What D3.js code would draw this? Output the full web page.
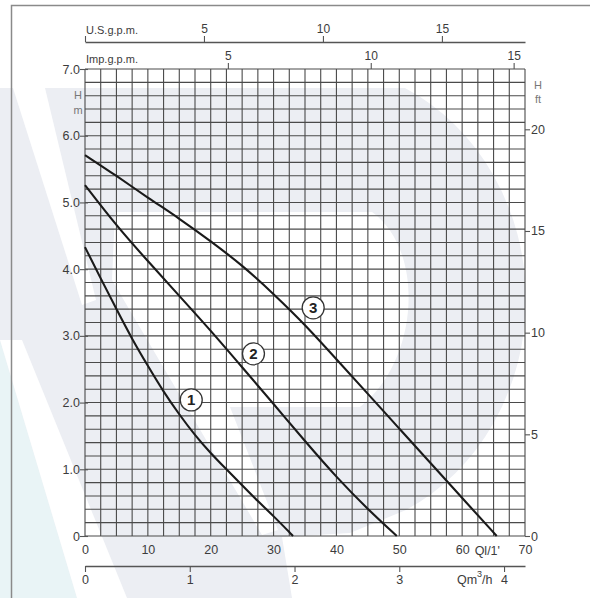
<!DOCTYPE html>
<html>
<head>
<meta charset="utf-8">
<script src="https://cdn.jsdelivr.net/npm/d3@7"></script>
<style>
  body { margin: 0; background: #fff; }
  svg { display: block; }
  text { font-family: "Liberation Sans Narrow", "Liberation Sans", Arial, sans-serif; fill: #3c3c3c; }
</style>
</head>
<body>
<div id="chart"></div>
<script>
// pump curves, flow in l/min, head in m
const flowPump1 = [0, 2.5, 5, 7.5, 10, 12.5, 15, 17.5, 20, 22.5, 25, 27.5, 30, 33.1];
const headPump1 = [4.33, 3.86, 3.4, 2.95, 2.55, 2.16, 1.82, 1.51, 1.24, 1.0, 0.76, 0.52, 0.3, 0];
const flowPump2 = [0, 5, 10, 15, 20, 25, 30, 35, 40, 45, 49.6];
const headPump2 = [5.26, 4.65, 4.12, 3.6, 3.08, 2.53, 1.98, 1.42, 0.88, 0.4, 0];
const flowPump3 = [0, 5, 10, 15, 20, 25, 30, 35, 40, 45, 50, 55, 60, 65.5];
const headPump3 = [5.71, 5.4, 5.07, 4.76, 4.42, 4.06, 3.63, 3.17, 2.65, 2.13, 1.61, 1.09, 0.57, 0];

// circled curve numbers
const curveNames = ["1", "2", "3"];
const nameFlow = [16.9, 26.8, 36.3];
const nameHead = [2.04, 2.73, 3.42];

// axes
const headTicks = [0, 1, 2, 3, 4, 5, 6, 7];
const ftTicks = [0, 5, 10, 15, 20];
const flowTicks = [0, 10, 20, 30, 40, 50, 60, 70];
const usTicks = [0, 5, 10, 15];
const impTicks = [5, 10, 15];
const m3Ticks = [0, 1, 2, 3, 4];
const flowMax = 70, headMax = 7;
const flowStep = 2.5, headStep = 0.2;

const width = 590, height = 598;
const svg = d3.select("#chart").append("svg")
  .attr("width", width)
  .attr("height", height);

const x = d3.scaleLinear().domain([0, flowMax]).range([85, 525]);
const y = d3.scaleLinear().domain([0, headMax]).range([536, 69]);
const yFt = d3.scaleLinear().domain([0, headMax / 0.3048]).range(y.range());
const xUS = d3.scaleLinear().domain([0, flowMax / 3.78541]).range(x.range());
const xImp = d3.scaleLinear().domain([0, flowMax / 4.54609]).range(x.range());
const xM3 = d3.scaleLinear().domain([0, flowMax * 60 / 1000]).range(x.range());

// faded logo in the background
const bg = svg.append("g");
const poly = pts => "M" + pts.map(p => p.join(",")).join("L") + "Z";
bg.append("path")
  .attr("d", "M0,88 L405,88 A215 235 0 0 1 406 510 L350,533 L282,537 L292,598 L0,598 Z")
  .attr("fill", "#eceef3");
bg.append("path")
  .attr("d", poly([[0, 340], [77, 598], [0, 598]]))
  .attr("fill", "#e9f4f6");
bg.append("path")
  .attr("d", poly([[0, 340], [22, 340], [127, 598], [77, 598]]))
  .attr("fill", "#fff");
bg.append("path")
  .attr("d", poly([[13, 88], [45, 88], [96, 300], [82, 305]]))
  .attr("fill", "#fff");
bg.append("path")
  .attr("d", "M115,212 L372,212 C425,250 420,360 360,407 L230,407 L278,530 L262,535 L165,370 L112,280 Z")
  .attr("fill", "#fff");

// frame
svg.append("path")
  .attr("d", "M11.5,598 L11.5,5.5 L590,5.5")
  .attr("fill", "none")
  .attr("stroke", "#8a8a8a")
  .attr("stroke-width", 1.5);

// grid
const grid = svg.append("g").attr("stroke", "#4a4a4a").attr("stroke-width", 1.1);
grid.selectAll(".v")
  .data(d3.range(0, flowMax + 0.01, flowStep))
  .enter().append("line")
  .attr("x1", d => x(d)).attr("x2", d => x(d))
  .attr("y1", y(0)).attr("y2", y(headMax));
grid.selectAll(".h")
  .data(d3.range(0, headMax + 0.01, headStep))
  .enter().append("line")
  .attr("x1", x(0)).attr("x2", x(flowMax))
  .attr("y1", d => y(d)).attr("y2", d => y(d));

function style(g, size) {
  g.select(".domain").remove();
  g.selectAll("line").attr("stroke", "#555").attr("stroke-width", 1.1);
  g.selectAll("text").attr("font-size", size).attr("fill", "#3c3c3c");
}

// left head axis (m)
svg.append("g")
  .attr("transform", `translate(${x(0) + 3},0)`)
  .call(d3.axisLeft(y).tickValues(headTicks).tickSize(8).tickPadding(0)
    .tickFormat(d => d === 0 ? "0" : d.toFixed(1)))
  .call(g => style(g, "12.5px"));

// right head axis (ft)
svg.append("g")
  .attr("transform", `translate(${x(flowMax)},0)`)
  .call(d3.axisRight(yFt).tickValues(ftTicks).tickSize(5).tickPadding(1))
  .call(g => style(g, "12.5px"));

// bottom flow axis (l/min)
svg.append("g")
  .attr("transform", `translate(0,${y(0)})`)
  .call(d3.axisBottom(x).tickValues(flowTicks).tickSize(0).tickPadding(9))
  .call(g => style(g, "12.5px"));

// bottom m3/h axis
const m3Axis = svg.append("g")
  .attr("transform", "translate(0,566)")
  .call(d3.axisBottom(xM3).tickValues(m3Ticks).tickSize(6).tickSizeOuter(0).tickPadding(3)
    .tickFormat(d => d));
m3Axis.select(".domain").attr("stroke", "#555").attr("stroke-width", 1.3);
m3Axis.selectAll("line").attr("stroke", "#555").attr("stroke-width", 1.1);
m3Axis.selectAll("text").attr("font-size", "12.5px").attr("fill", "#3c3c3c");

// top U.S. g.p.m. axis
const usAxis = svg.append("g")
  .attr("transform", "translate(0,42)")
  .call(d3.axisTop(xUS).tickValues(usTicks).tickSize(6).tickSizeOuter(0).tickPadding(3)
    .tickFormat(d => d === 0 ? "" : d));
usAxis.select(".domain").attr("stroke", "#555").attr("stroke-width", 1.3);
usAxis.selectAll("line").attr("stroke", "#555").attr("stroke-width", 1.1);
usAxis.selectAll("text").attr("font-size", "12px").attr("fill", "#3c3c3c");

// top Imp. g.p.m. axis
svg.append("g")
  .attr("transform", `translate(0,${y(headMax)})`)
  .call(d3.axisTop(xImp).tickValues(impTicks).tickSize(6).tickPadding(3))
  .call(g => style(g, "12px"));

// unit labels
const unit = (tx, ty, t, anchor, size, col) => svg.append("text")
  .attr("x", tx).attr("y", ty).attr("text-anchor", anchor || "start")
  .attr("font-size", size || "11px").style("fill", col || "#3c3c3c").text(t);
unit(x(0) + 1, 34, "U.S.g.p.m.");
unit(x(0) + 1, 63, "Imp.g.p.m.");
unit(78, 99, "H", "middle", "11px", "#777");
unit(78, 114, "m", "middle", "11px", "#777");
unit(538, 89, "H", "middle", "11px", "#777");
unit(538, 103, "ft", "middle", "11px", "#777");
unit(x(64), y(0) + 18.5, "Ql/1'", "middle", "12.5px");
const q3 = svg.append("text")
  .attr("x", xM3(3.72)).attr("y", 584)
  .attr("text-anchor", "middle").attr("font-size", "12.5px");
q3.append("tspan").text("Qm");
q3.append("tspan").attr("dy", -7).attr("font-size", "9px").text("3");
q3.append("tspan").attr("dy", 7).text("/h");

// pump curves
const line = d3.line()
  .x(d => x(d[0]))
  .y(d => y(d[1]))
  .curve(d3.curveBasis);
const pumps = [
  d3.zip(flowPump1, headPump1),
  d3.zip(flowPump2, headPump2),
  d3.zip(flowPump3, headPump3)
];
svg.append("g").selectAll("path")
  .data(pumps)
  .enter().append("path")
  .attr("d", line)
  .attr("fill", "none")
  .attr("stroke", "#1a1a1a")
  .attr("stroke-width", 2.1);

// curve numbers
const tags = svg.append("g").selectAll("g")
  .data(curveNames)
  .enter().append("g")
  .attr("transform", (d, i) => `translate(${x(nameFlow[i])},${y(nameHead[i])})`);
tags.append("circle")
  .attr("r", 11)
  .attr("fill", "#fff")
  .attr("stroke", "#333")
  .attr("stroke-width", 1.3);
tags.append("text")
  .attr("text-anchor", "middle")
  .attr("dy", "0.36em")
  .attr("font-size", "15px")
  .attr("font-weight", "bold")
  .style("font-family", "Liberation Sans, Arial, sans-serif")
  .style("fill", "#222")
  .text(d => d);
</script>
</body>
</html>
